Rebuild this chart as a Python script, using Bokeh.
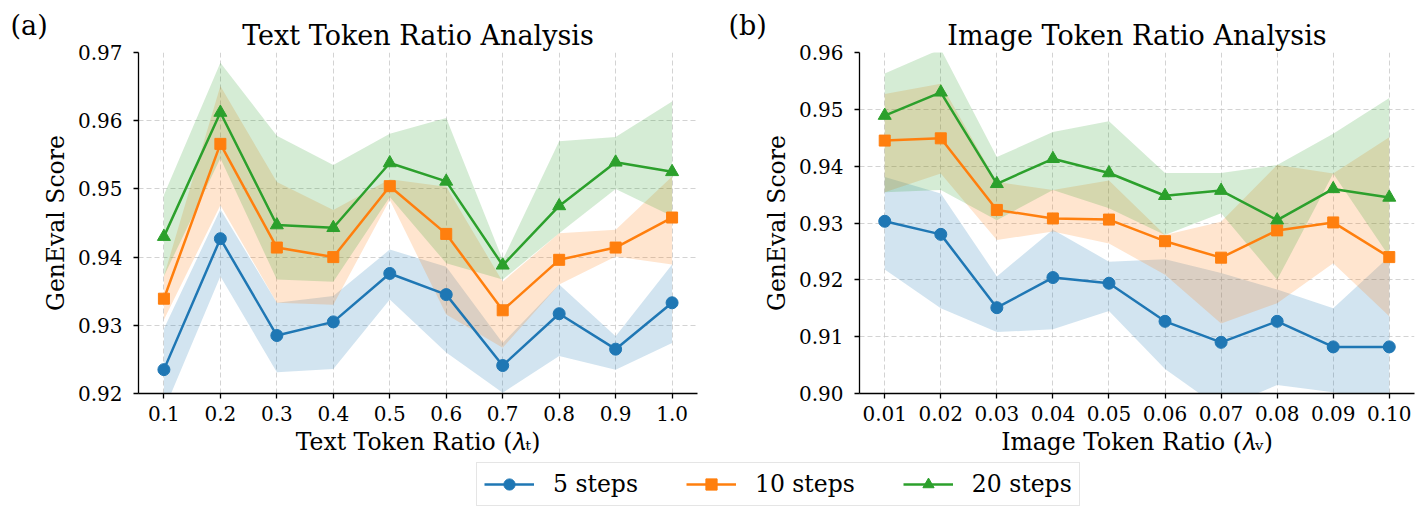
from bokeh.plotting import figure
from bokeh.layouts import column, row
from bokeh.models import Range1d, FixedTicker, PrintfTickFormatter, Legend, LegendItem, Title
from bokeh.embed import file_html
from bokeh.resources import INLINE

# ---------------- data ----------------
text_ratio = [0.1, 0.2, 0.3, 0.4, 0.5, 0.6, 0.7, 0.8, 0.9, 1.0]
image_ratio = [0.01, 0.02, 0.03, 0.04, 0.05, 0.06, 0.07, 0.08, 0.09, 0.10]

# (a) text token ratio
t5_mean = [0.9235, 0.9427, 0.9285, 0.9305, 0.9376, 0.9345, 0.9241, 0.9317, 0.9265, 0.9333]
t5_low = [0.9175, 0.9372, 0.9231, 0.9236, 0.9338, 0.9260, 0.9201, 0.9255, 0.9235, 0.9274]
t5_high = [0.9295, 0.9470, 0.9333, 0.9343, 0.9411, 0.9386, 0.9274, 0.9360, 0.9284, 0.9389]

t10_mean = [0.9339, 0.9566, 0.9414, 0.9400, 0.9504, 0.9434, 0.9322, 0.9396, 0.9414, 0.9458]
t10_low = [0.9308, 0.9476, 0.9333, 0.9330, 0.9484, 0.9316, 0.9267, 0.9360, 0.9401, 0.9389]
t10_high = [0.9372, 0.9651, 0.9510, 0.9469, 0.9514, 0.9503, 0.9364, 0.9435, 0.9440, 0.9518]

t20_mean = [0.9430, 0.9612, 0.9447, 0.9443, 0.9538, 0.9511, 0.9388, 0.9475, 0.9539, 0.9525]
t20_low = [0.9372, 0.9545, 0.9367, 0.9364, 0.9488, 0.9391, 0.9367, 0.9435, 0.9500, 0.9460]
t20_high = [0.9491, 0.9685, 0.9578, 0.9535, 0.9581, 0.9604, 0.9396, 0.9570, 0.9576, 0.9628]

# (b) image token ratio
i5_mean = [0.9303, 0.9280, 0.9151, 0.9204, 0.9194, 0.9127, 0.9090, 0.9127, 0.9082, 0.9082]
i5_low = [0.9218, 0.9150, 0.9108, 0.9113, 0.9145, 0.9043, 0.8973, 0.9015, 0.9002, 0.8990]
i5_high = [0.9381, 0.9352, 0.9206, 0.9288, 0.9232, 0.9236, 0.9212, 0.9183, 0.9150, 0.9241]

i10_mean = [0.9445, 0.9449, 0.9323, 0.9308, 0.9306, 0.9268, 0.9239, 0.9287, 0.9301, 0.9240]
i10_low = [0.9354, 0.9387, 0.9270, 0.9285, 0.9264, 0.9209, 0.9123, 0.9159, 0.9229, 0.9136]
i10_high = [0.9527, 0.9545, 0.9372, 0.9358, 0.9375, 0.9279, 0.9302, 0.9402, 0.9387, 0.9451]

i20_mean = [0.9489, 0.9530, 0.9369, 0.9413, 0.9388, 0.9348, 0.9357, 0.9305, 0.9360, 0.9345]
i20_low = [0.9354, 0.9358, 0.9305, 0.9358, 0.9326, 0.9279, 0.9317, 0.9200, 0.9387, 0.9241]
i20_high = [0.9563, 0.9606, 0.9416, 0.9460, 0.9479, 0.9388, 0.9388, 0.9402, 0.9457, 0.9520]

text_yticks = [0.92, 0.93, 0.94, 0.95, 0.96, 0.97]
image_yticks = [0.90, 0.91, 0.92, 0.93, 0.94, 0.95, 0.96]

series_names = ["5 steps", "10 steps", "20 steps"]
colors = ["#1f77b4", "#ff7f0e", "#2ca02c"]
markers = ["circle", "square", "triangle"]
marker_sizes = [12, 11, 13]

FONT = "DejaVu Serif"


def make_panel(title, xlabel, xs, means, lows, highs, xr, yr, yticks, xfmt,
               width, mbl, mbr, tag, tag_offset):
    p = figure(width=width, height=462, output_backend="svg", toolbar_location=None,
               x_range=Range1d(*xr), y_range=Range1d(*yr), title=None,
               min_border_left=mbl, min_border_right=mbr,
               min_border_top=52, min_border_bottom=69)
    p.outline_line_color = None
    p.background_fill_color = "white"
    p.border_fill_color = "white"

    p.add_layout(Title(text=title, align="center", text_font=FONT, text_font_size="27px",
                       text_font_style="normal", text_color="black", standoff=4), "above")
    p.add_layout(Title(text=tag, align="left", offset=tag_offset, standoff=-50,
                       vertical_align="bottom", text_font=FONT, text_font_size="27px",
                       text_font_style="normal", text_color="black"), "above")

    for lo, hi, c in zip(lows, highs, colors):
        p.varea(x=xs, y1=lo, y2=hi, fill_color=c, fill_alpha=0.2)
    for m, c, mk, ms in zip(means, colors, markers, marker_sizes):
        p.line(xs, m, line_color=c, line_width=2.5)
        p.scatter(xs, m, marker=mk, size=ms, fill_color=c, line_color=c)

    for ax in (p.xaxis[0], p.yaxis[0]):
        ax.axis_line_color = "black"
        ax.axis_line_width = 1.3
        ax.major_tick_line_color = "black"
        ax.major_tick_line_width = 1.3
        ax.major_tick_out = 5
        ax.major_tick_in = 0
        ax.minor_tick_line_color = None
        ax.major_label_text_font = FONT
        ax.major_label_text_font_size = "20px"
        ax.major_label_text_color = "black"
        ax.axis_label_text_font = FONT
        ax.axis_label_text_font_size = "23.5px"
        ax.axis_label_text_font_style = "normal"
        ax.axis_label_text_color = "black"

    p.xaxis.ticker = FixedTicker(ticks=xs)
    p.xaxis.formatter = PrintfTickFormatter(format=xfmt)
    p.xaxis.major_label_standoff = 7
    p.xaxis.axis_label = xlabel
    p.xaxis.axis_label_standoff = 4

    p.yaxis.ticker = FixedTicker(ticks=yticks)
    p.yaxis.formatter = PrintfTickFormatter(format="%.2f")
    p.yaxis.major_label_standoff = 11
    p.yaxis.axis_label = "GenEval Score"
    p.yaxis.axis_label_standoff = 5

    for g in (p.xgrid[0], p.ygrid[0]):
        g.grid_line_color = "#c8c8c8"
        g.grid_line_width = 1
        g.grid_line_dash = "5 3"
        g.grid_line_alpha = 0.8
    return p


p1 = make_panel("Text Token Ratio Analysis", "Text Token Ratio (\U0001D706\u209C)",
                text_ratio, [t5_mean, t10_mean, t20_mean], [t5_low, t10_low, t20_low],
                [t5_high, t10_high, t20_high], (0.055, 1.045), (0.92, 0.97), text_yticks,
                "%.1f", 720, 138, 23, "(a)", -128)
p2 = make_panel("Image Token Ratio Analysis", "Image Token Ratio (\U0001D706\u1D65)",
                image_ratio, [i5_mean, i10_mean, i20_mean], [i5_low, i10_low, i20_low],
                [i5_high, i10_high, i20_high], (0.0055, 0.1045), (0.90, 0.96), image_yticks,
                "%.2f", 698, 139, 4, "(b)", -131)

# legend strip
lf = figure(width=1418, height=46, output_backend="svg", toolbar_location=None,
            x_range=Range1d(0, 1), y_range=Range1d(0, 1),
            min_border_left=0, min_border_right=0, min_border_top=0, min_border_bottom=0)
lf.xaxis.visible = False
lf.yaxis.visible = False
lf.grid.visible = False
lf.outline_line_color = None
items = []
for name, c, mk in zip(series_names, colors, markers):
    r1 = lf.line(x=[5, 6], y=[5, 5], line_color=c, line_width=2.5)
    r2 = lf.scatter(x=[5], y=[5], marker=mk, size=11, fill_color=c, line_color=c)
    items.append(LegendItem(label=name, renderers=[r1, r2]))
leg = Legend(items=items, orientation="horizontal", location=(476, 2),
             label_text_font=FONT, label_text_font_size="23.5px", label_text_color="black",
             glyph_width=50, glyph_height=28, label_standoff=19, spacing=48,
             padding=7, margin=0, border_line_color="#cccccc", border_line_width=1,
             background_fill_alpha=1.0)
lf.add_layout(leg, "center")

layout = column(row(p1, p2), lf)
open("out.html", "w").write(file_html(layout, INLINE))
